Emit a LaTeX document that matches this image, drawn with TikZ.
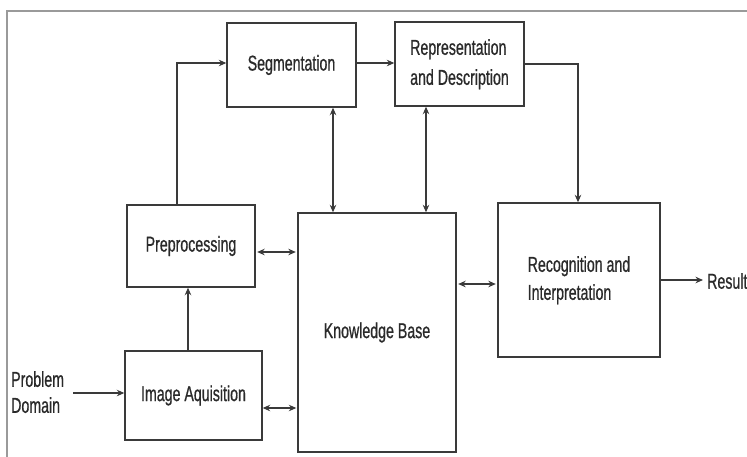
\documentclass[tikz,border=0pt]{standalone}
\usepackage{fontspec}
\newfontfamily\arialn[FakeStretch=0.66,FakeBold=0.7]{Liberation Sans}
\usetikzlibrary{arrows.meta}
\definecolor{ink}{HTML}{3A3A3A}
\definecolor{txt}{HTML}{2A2A2A}
\definecolor{frame}{HTML}{9A9A9A}
\tikzset{
  blk/.style={draw=ink, line width=1.4pt, inner sep=0pt, align=center, text=txt},
  lbl/.style={text=txt, inner sep=0pt},
  arr/.style={draw=ink, line width=1.2pt, -{Stealth[length=7.5pt,width=6.5pt]}},
  darr/.style={draw=ink, line width=1.2pt, {Stealth[length=7.5pt,width=6.5pt]}-{Stealth[length=7.5pt,width=6.5pt]}},
}
\begin{document}
\begin{tikzpicture}[x=1pt,y=-1pt, font=\arialn\fontsize{21.5}{29}\selectfont]
\clip (0,0) rectangle (747,456);
\fill[white] (0,0) rectangle (747,456);
% frame
\draw[frame, line width=1.5pt] (7,460) -- (7,11) -- (750,11);
% boxes
\node[blk, minimum width=129pt, minimum height=84pt] (seg) at (291.5,65) {Segmentation};
\node[blk, minimum width=129pt, minimum height=84pt] (rep) at (459.5,64) {\begin{tabular}{@{}l@{}}Representation\\[1pt]and Description\end{tabular}};
\node[blk, minimum width=162pt, minimum height=154pt] (rec) at (579,280) {\begin{tabular}{@{}l@{}}Recognition and\\[-1pt]Interpretation\end{tabular}};
\node[blk, minimum width=158pt, minimum height=239pt] (kb) at (377,332.5) {Knowledge Base};
\node[blk, minimum width=128pt, minimum height=82pt] (pre) at (191,246) {Preprocessing};
\node[blk, minimum width=137pt, minimum height=89pt] (img) at (193.5,395.5) {Image Aquisition};
% labels
\node[lbl, anchor=west, align=left] (pd) at (11,394) {\begin{tabular}{@{}l@{}}Problem\\[-3pt]Domain\end{tabular}};
\node[lbl, anchor=west, inner sep=0pt] (res) at (707,281) {Result};
\coordinate (pa) at (73,393);
% connectors
\draw[arr] (pa) -- (pa -| img.west);
\draw[arr] ([xshift=-5.5pt]img.north) -- ([xshift=-5.5pt]img.north |- pre.south);
\draw[arr] ([xshift=-14pt]pre.north) |- ([yshift=2pt]seg.west);
\draw[arr] ([yshift=2pt]seg.east) -- ([yshift=1pt]rep.west);
\draw[arr] ([yshift=0pt]rep.east) -| ([xshift=-1pt]rec.north);
\draw[darr] ([xshift=41.5pt]seg.south) -- ([xshift=41.5pt]seg.south |- kb.north);
\draw[darr] ([xshift=-33.5pt]rep.south) -- ([xshift=-33.5pt]rep.south |- kb.north);
\draw[darr, shorten <=1.5pt, shorten >=1.5pt] ([yshift=-6pt]pre.east) -- ([yshift=-6pt]pre.east -| kb.west);
\draw[darr, shorten >=1pt] ([yshift=-12.5pt]img.east) -- ([yshift=-12.5pt]img.east -| kb.west);
\draw[darr, shorten <=1.5pt, shorten >=1.5pt] ([yshift=-4pt]rec.west -| kb.east) -- ([yshift=-4pt]rec.west);
\draw[arr, shorten >=4pt] (rec.east) -- (rec.east -| res.west);
\end{tikzpicture}
\end{document}
